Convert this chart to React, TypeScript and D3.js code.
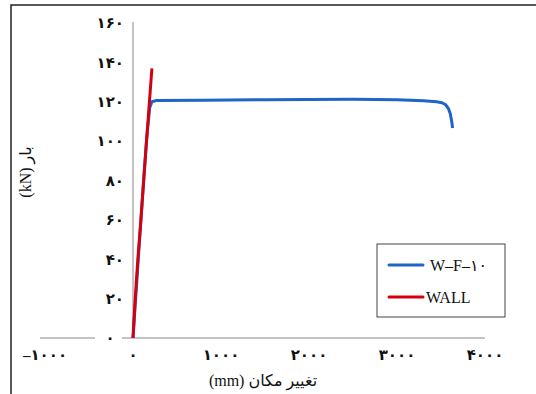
import React from 'react';
import * as d3 from 'd3';

// displacement (mm) / load (kN)
const wfDisp = [0, 30, 60, 90, 120, 150, 165, 175, 190, 215, 260, 800, 1500, 2000, 2500, 3000, 3300, 3450, 3510, 3550, 3585, 3605, 3620, 3632];
const wfLoad = [0, 20, 40, 60, 80, 98, 106, 110, 117, 120, 120.6, 120.8, 121, 121.2, 121.3, 121, 120.5, 120, 119.5, 118.6, 116.5, 114, 110.5, 106.7];

const wallDisp = [0, 25, 55, 90, 122, 150, 180, 200, 215];
const wallLoad = [0, 20, 40, 60, 80, 98, 116, 128, 137];

const xTicks = [-1000, 0, 1000, 2000, 3000, 4000];
const yTicks = [0, 20, 40, 60, 80, 100, 120, 140, 160];

const seriesNames = ['W-F-10', 'WALL'];
const colors = ['#1f64c8', '#d5000f'];

const faDigits = '۰۱۲۳۴۵۶۷۸۹';
const toFa = (s: string) => s.replace(/[0-9]/g, d => faDigits[+d]).replace('-', '–');

const App = () => {
  const ref = React.useRef<SVGSVGElement>(null);

  React.useEffect(() => {
    const svg = d3.select(ref.current);
    svg.selectAll('*').remove();

    const font = '"Liberation Serif", "DejaVu Sans", serif';

    const x = d3.scaleLinear().domain([-1000, 4000]).range([45, 485]);
    const y = d3.scaleLinear().domain([0, 160]).range([338, 23]);

    // outer frame
    svg.append('rect')
      .attr('x', 11).attr('y', 5)
      .attr('width', 540).attr('height', 400)
      .attr('fill', 'white').attr('stroke', '#222').attr('stroke-width', 1.5);

    // axis lines
    svg.append('line')
      .attr('x1', 40).attr('x2', x(4000))
      .attr('y1', y(0)).attr('y2', y(0))
      .attr('stroke', '#888').attr('stroke-width', 1);
    svg.append('line')
      .attr('x1', x(0)).attr('x2', x(0))
      .attr('y1', 22).attr('y2', y(0))
      .attr('stroke', '#888').attr('stroke-width', 1);

    // y tick labels
    const yl = svg.append('g');
    yTicks.forEach(t => {
      if (t === 0) {
        yl.append('rect')
          .attr('x', 95).attr('y', y(0) - 6)
          .attr('width', 27).attr('height', 12)
          .attr('fill', 'white');
      }
      yl.append('text')
        .attr('x', t === 0 ? 110 : 124).attr('y', y(t))
        .attr('dy', '0.35em')
        .attr('text-anchor', t === 0 ? 'middle' : 'end')
        .attr('font-family', font).attr('font-size', 15).attr('font-weight', 'bold')
        .attr('fill', '#111')
        .text(toFa(String(t)));
    });

    // x tick labels
    xTicks.forEach(t => {
      svg.append('text')
        .attr('x', x(t)).attr('y', 360)
        .attr('text-anchor', 'middle')
        .attr('font-family', font).attr('font-size', 15).attr('font-weight', 'bold')
        .attr('fill', '#111')
        .text(toFa(String(t)));
    });

    // axis titles
    svg.append('text')
      .attr('x', 263).attr('y', 386)
      .attr('text-anchor', 'middle')
      .attr('direction', 'rtl')
      .attr('font-family', font).attr('font-size', 16)
      .attr('fill', '#111')
      .text('تغییر مکان (mm)');
    svg.append('text')
      .attr('transform', 'translate(31,172) rotate(-90)')
      .attr('text-anchor', 'middle')
      .attr('font-family', font).attr('font-size', 16)
      .attr('fill', '#111')
      .text('(kN) بار');

    const line = d3.line<[number, number]>()
      .x(d => x(d[0]))
      .y(d => y(d[1]));

    const wf = wfDisp.map((d, i) => [d, wfLoad[i]] as [number, number]);
    const wall = wallDisp.map((d, i) => [d, wallLoad[i]] as [number, number]);

    svg.append('path')
      .datum(wf)
      .attr('fill', 'none')
      .attr('stroke', colors[0])
      .attr('stroke-width', 3)
      .attr('stroke-linejoin', 'round')
      .attr('d', line);

    svg.append('path')
      .datum(wall)
      .attr('fill', 'none')
      .attr('stroke', colors[1])
      .attr('stroke-width', 3)
      .attr('stroke-linejoin', 'round')
      .attr('d', line);

    // legend
    const lg = svg.append('g');
    lg.append('rect')
      .attr('x', 377).attr('y', 244)
      .attr('width', 128).attr('height', 73)
      .attr('fill', 'white').attr('stroke', '#444').attr('stroke-width', 1);
    seriesNames.forEach((name, i) => {
      const ly = 265 + i * 32;
      lg.append('line')
        .attr('x1', 389).attr('x2', 423)
        .attr('y1', ly).attr('y2', ly)
        .attr('stroke', colors[i]).attr('stroke-width', 3)
        .attr('stroke-linecap', 'round');
      lg.append('text')
        .attr('x', i === 0 ? 430 : 426).attr('y', ly)
        .attr('dy', '0.35em')
        .attr('font-family', font).attr('font-size', 16)
        .attr('fill', '#111')
        .text(i === 0 ? 'W–F–۱۰' : name);
    });
  }, []);

  return (
    <svg
      ref={ref}
      width={536}
      height={394}
      style={{ position: 'absolute', left: 0, top: 0, background: 'white' }}
    />
  );
};

export default App;
